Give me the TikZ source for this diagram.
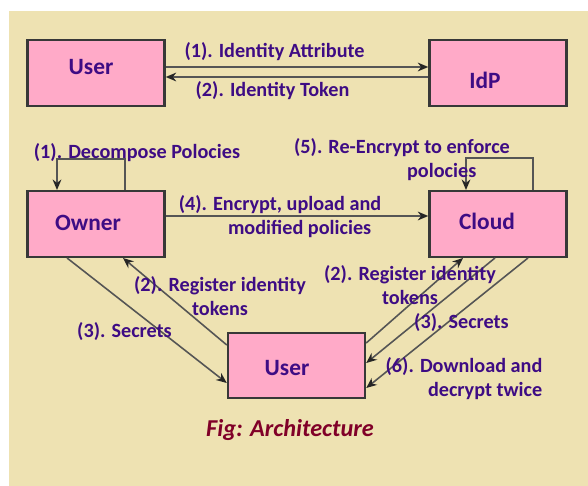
\documentclass[tikz,border=0pt]{standalone}
\usepackage{fontspec}
\setmainfont{Carlito}
\usepackage{xcolor}
\usepackage{tikz}
\usetikzlibrary{positioning,arrows.meta,calc}

\definecolor{paper}{RGB}{238,226,178}
\definecolor{boxpink}{RGB}{255,170,200}
\definecolor{inkpurple}{RGB}{62,12,132}
\definecolor{capred}{RGB}{128,0,40}
\definecolor{wiregray}{RGB}{85,85,85}

\tikzset{
  entity/.style={draw=black!78, line width=1.4pt, fill=boxpink, minimum width=2.74cm, minimum height=1.31cm, inner sep=0pt},
  entitytext/.style={text=inkpurple, font=\fontsize{13.3}{15}\selectfont\bfseries, inner sep=0pt},
  msg/.style={text=inkpurple, font=\fontsize{11.5}{13.6}\selectfont\bfseries, inner sep=0pt},
  flow/.style={draw=wiregray, line width=0.9pt, -{Stealth[length=6pt,width=5pt,black!85]}},
}

\begin{document}
\begin{tikzpicture}[x=0.02cm, y=-0.02cm]
  % Page and paper
  \fill[white] (0,0) rectangle (588,486);
  \fill[paper] (9,11) rectangle (588,486);
  \useasboundingbox (0,0) rectangle (588,486);
  % Entities
  \node[entity] (userA) at (96,73) {};
  \node[entity] (idp) at (498,73) {};
  \node[entity] (owner) at (96,224) {};
  \node[entity] (cloud) at (498,224) {};
  \node[entity] (userB) at (296.5,365.5) {};
  \node[entitytext] (userAT) at (91,67) {User};
  \node[entitytext] (idpT) at (485,80) {IdP};
  \node[entitytext] (ownerT) at (88,223) {Owner};
  \node[entitytext] (cloudT) at (487,221) {Cloud};
  \node[entitytext] (userBT) at (287,368) {User};
  % User <-> IdP
  \draw[flow] ($(userA.east)+(0,-6)$) -- ($(idp.west)+(0,-6)$);
  \draw[flow] ($(idp.west)+(0,4)$) -- ($(userA.east)+(0,4)$);
  % Self loops
  \draw[flow] ($(owner.north)+(29,0)$) -- ++(0,-31) -| ($(owner.north)+(-39,0)$);
  \draw[flow] ($(cloud.north)+(35,0)$) -- ++(0,-32) -| ($(cloud.north)+(-32,0)$);
  % Owner -> Cloud
  \draw[flow] ($(owner.east)+(0,-8)$) -- ($(cloud.west)+(0,-8)$);
  % Owner <-> User
  \draw[flow] ($(owner.south)+(-29,0)$) -- ($(userB.west)+(0,17.5)$);
  \draw[flow] ($(userB.west)+(0,-20.5)$) -- ($(owner.south)+(27,0)$);
  % Cloud <-> User
  \draw[flow] ($(userB.east)+(0,-22.5)$) -- ($(cloud.south)+(-35,0)$);
  \draw[flow] ($(cloud.south)+(-3,0)$) -- ($(userB.east)+(0,-2.5)$);
  \draw[flow] ($(cloud.south)+(30,0)$) -- ($(userB.east)+(0,22.5)$);
  % Labels
  \node[msg] (lblAttr) at (274.5,52) {(1). Identity Attribute};
  \node[msg] (lblToken) at (272.5,91) {(2). Identity Token};
  \node[msg] (lblDecomp) at (137,153) {(1). Decompose Polocies};
  \node[msg, align=left] (lblReenc) at (402,159.5) {(5). Re-Encrypt to enforce\\\hspace*{2.26cm}polocies};
  \node[msg, align=right] (lblUpload) at (280,216.5) {(4). Encrypt, upload and\\modified policies\hspace*{0.2cm}};
  \node[msg, align=center] (lblRegL) at (220,296.5) {(2). Register identity\\tokens};
  \node[msg, align=center] (lblRegR) at (410,285) {(2). Register identity\\tokens};
  \node[msg] (lblSecL) at (124.5,332) {(3). Secrets};
  \node[msg] (lblSecR) at (461.5,323) {(3). Secrets};
  \node[msg, align=right] (lblDown) at (464,378.5) {(6). Download and\\decrypt twice};
  \node[text=capred, font=\fontsize{13.8}{16}\selectfont\bfseries\itshape] (caption) at (290,430) {Fig: Architecture};
\end{tikzpicture}
\end{document}
